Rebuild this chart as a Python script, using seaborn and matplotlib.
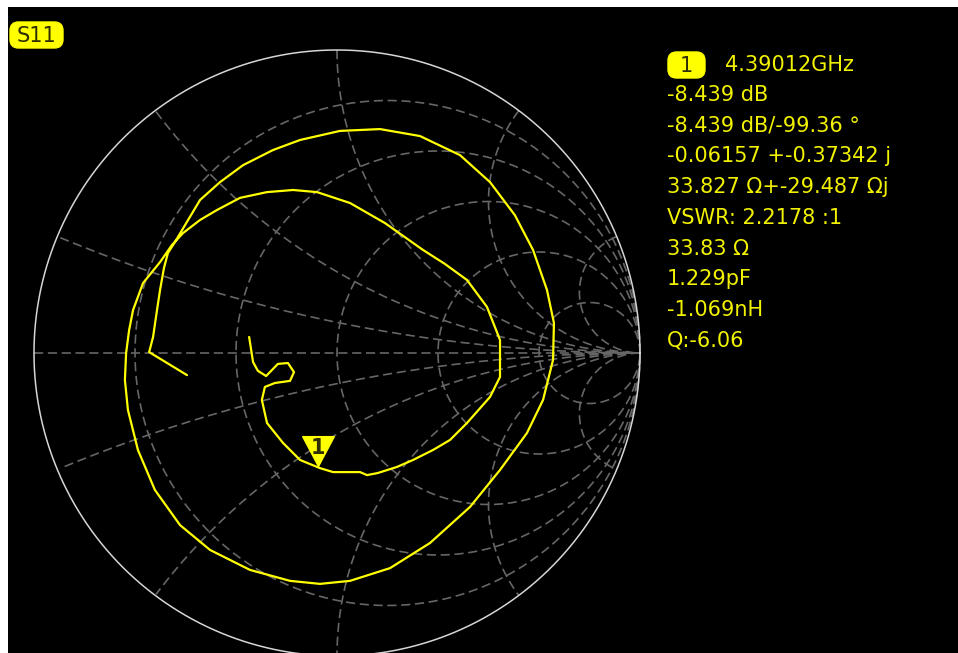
import numpy as np
import pandas as pd
import matplotlib
matplotlib.use("Agg")
import matplotlib.pyplot as plt
from matplotlib.path import Path
from matplotlib.patches import FancyBboxPatch
import seaborn as sns

# ---- S11 sweep, reflection coefficient (real, imag) ----
gamma_re = [-0.495, -0.620, -0.607, -0.594, -0.584, -0.571, -0.558, -0.535,
            -0.452, -0.386, -0.310, -0.211, -0.122, 0.010, 0.142, 0.274,
            0.406, 0.505, 0.587, 0.647, 0.693, 0.716, 0.713, 0.680,
            0.627, 0.538, 0.439, 0.307, 0.175, 0.043, -0.056, -0.155,
            -0.287, -0.419, -0.518, -0.601, -0.657, -0.690, -0.700, -0.696,
            -0.686, -0.673, -0.640, -0.584, -0.545, -0.508, -0.452, -0.396,
            -0.320, -0.231, -0.145, -0.066, 0.043, 0.158, 0.284, 0.356,
            0.429, 0.495, 0.538, 0.538, 0.505, 0.429, 0.373, 0.317,
            0.251, 0.198, 0.135, 0.099, 0.076, -0.013, -0.056, -0.122,
            -0.178, -0.231, -0.248, -0.238, -0.205, -0.155, -0.142, -0.162,
            -0.195, -0.234, -0.261, -0.277, -0.290]
gamma_im = [-0.073, 0.003, 0.053, 0.142, 0.208, 0.281, 0.330, 0.366,
            0.505, 0.564, 0.620, 0.670, 0.703, 0.733, 0.739, 0.716,
            0.653, 0.564, 0.455, 0.340, 0.208, 0.099, -0.023, -0.155,
            -0.264, -0.386, -0.508, -0.627, -0.710, -0.752, -0.762, -0.752,
            -0.716, -0.650, -0.568, -0.452, -0.320, -0.188, -0.089, 0.000,
            0.076, 0.142, 0.231, 0.300, 0.356, 0.396, 0.439, 0.472,
            0.512, 0.531, 0.538, 0.531, 0.495, 0.429, 0.340, 0.294,
            0.241, 0.152, 0.043, -0.079, -0.145, -0.231, -0.287, -0.320,
            -0.353, -0.376, -0.396, -0.403, -0.393, -0.393, -0.380, -0.353,
            -0.297, -0.231, -0.155, -0.112, -0.099, -0.092, -0.063, -0.033,
            -0.036, -0.076, -0.059, -0.030, 0.053]

# ---- marker 1 (reflection coefficient from the readout) ----
marker_re = -0.06157
marker_im = -0.37342

# ---- Smith grid values ----
resistances = [0.2, 0.5, 1.0, 2.0, 5.0]
reactances = [0.2, 0.5, 1.0, 2.0, 5.0]

# ---- marker readout ----
trace_name = "S11"
marker_label = "1"
marker_freq = "4.39012GHz"
readout = ["-8.439 dB", "-8.439 dB/-99.36 °", "-0.06157 +-0.37342 j",
           "33.827 Ω+-29.487 Ωj", "VSWR: 2.2178 :1", "33.83 Ω",
           "1.229pF", "-1.069nH", "Q:-6.06"]

YEL = "#ffff00"
TXT = "#f2f200"
GRID = "#666666"
DARK = "#2e2e00"

sns.set_theme(style="dark")
plt.rcParams["font.family"] = ["DejaVu Sans"]

W, H = 958, 653
fig = plt.figure(figsize=(W / 100, H / 100), dpi=100, facecolor="white")
ax = fig.add_axes([8 / W, 0, (W - 8) / W, (H - 7) / H])
ax.set_facecolor("black")
for s in ax.spines.values():
    s.set_visible(False)
ax.set_xticks([])
ax.set_yticks([])
ax.grid(False)

# chart frame: unit circle of radius 303 px centred at (337, 353)
R = 303.0
cx, cy = 337.0, 353.0
ax.set_xlim((8 - cx) / R, (W - cx) / R)
ax.set_ylim(-(H - cy) / R, (cy - 7) / R)
ax.set_aspect("equal", adjustable="box")

t = np.linspace(0, 2 * np.pi, 1441)
dash = dict(color=GRID, lw=1.2, ls=(0, (5.5, 2.8)), zorder=1)

# outer |gamma| = 1 circle
ax.plot(np.cos(t), np.sin(t), color="#d6d6d6", lw=1.1, zorder=2)

# real axis
ax.plot([-1, 1], [0, 0], **dash)

# constant-resistance circles
for r in resistances:
    c, rad = r / (1 + r), 1 / (1 + r)
    ax.plot(c + rad * np.cos(t), rad * np.sin(t), **dash)

# constant-reactance arcs, clipped to the unit circle
for x in reactances:
    for sgn in (1, -1):
        yc, rad = sgn / x, 1 / x
        xs = 1 + rad * np.cos(t)
        ys = yc + rad * np.sin(t)
        inside = xs ** 2 + ys ** 2 <= 1.0001
        xs = np.where(inside, xs, np.nan)
        ys = np.where(inside, ys, np.nan)
        ax.plot(xs, ys, **dash)

# trace
df = pd.DataFrame({"re": gamma_re, "im": gamma_im})
sns.lineplot(data=df, x="re", y="im", sort=False, estimator=None,
             color=YEL, lw=1.6, ax=ax, zorder=5)
ax.set_xlabel("")
ax.set_ylabel("")

# marker triangle with its tip on the marker point
tri = Path([(-0.53, 1.0), (0.53, 1.0), (0.0, 0.0), (-0.53, 1.0)],
           [Path.MOVETO, Path.LINETO, Path.LINETO, Path.CLOSEPOLY])
ax.plot([marker_re], [marker_im], marker=tri, markersize=43, color=YEL,
        mec=YEL, zorder=6)
ax.annotate(marker_label, (marker_re, marker_im), xytext=(0, 13),
            textcoords="offset points", ha="center", va="center",
            fontsize=15, fontweight="bold", color=DARK, zorder=7)


def badge(x0, y0, w, h, text):
    """Rounded yellow label; geometry in pixels from the top-left corner."""
    box = FancyBboxPatch((x0 / W, 1 - (y0 + h) / H), w / W, h / H,
                         boxstyle="round,pad=0,rounding_size=0.009",
                         transform=fig.transFigure, fc=YEL, ec=YEL,
                         mutation_aspect=W / H, zorder=10)
    fig.patches.append(box)
    fig.text((x0 + w / 2) / W, 1 - (y0 + h / 2 + 1) / H, text, ha="center",
             va="center", fontsize=15, color=DARK, zorder=11)


badge(10, 22, 53, 26, trace_name)
badge(668, 52, 37, 26, marker_label)

fig.text(725 / W, 1 - 65 / H, marker_freq, ha="left", va="center",
         fontsize=15, color=TXT)
for i, line in enumerate(readout):
    fig.text(667 / W, 1 - (95 + 30.7 * i) / H, line, ha="left", va="center",
             fontsize=15, color=TXT)

fig.savefig("out.png", dpi=100, facecolor="white")
